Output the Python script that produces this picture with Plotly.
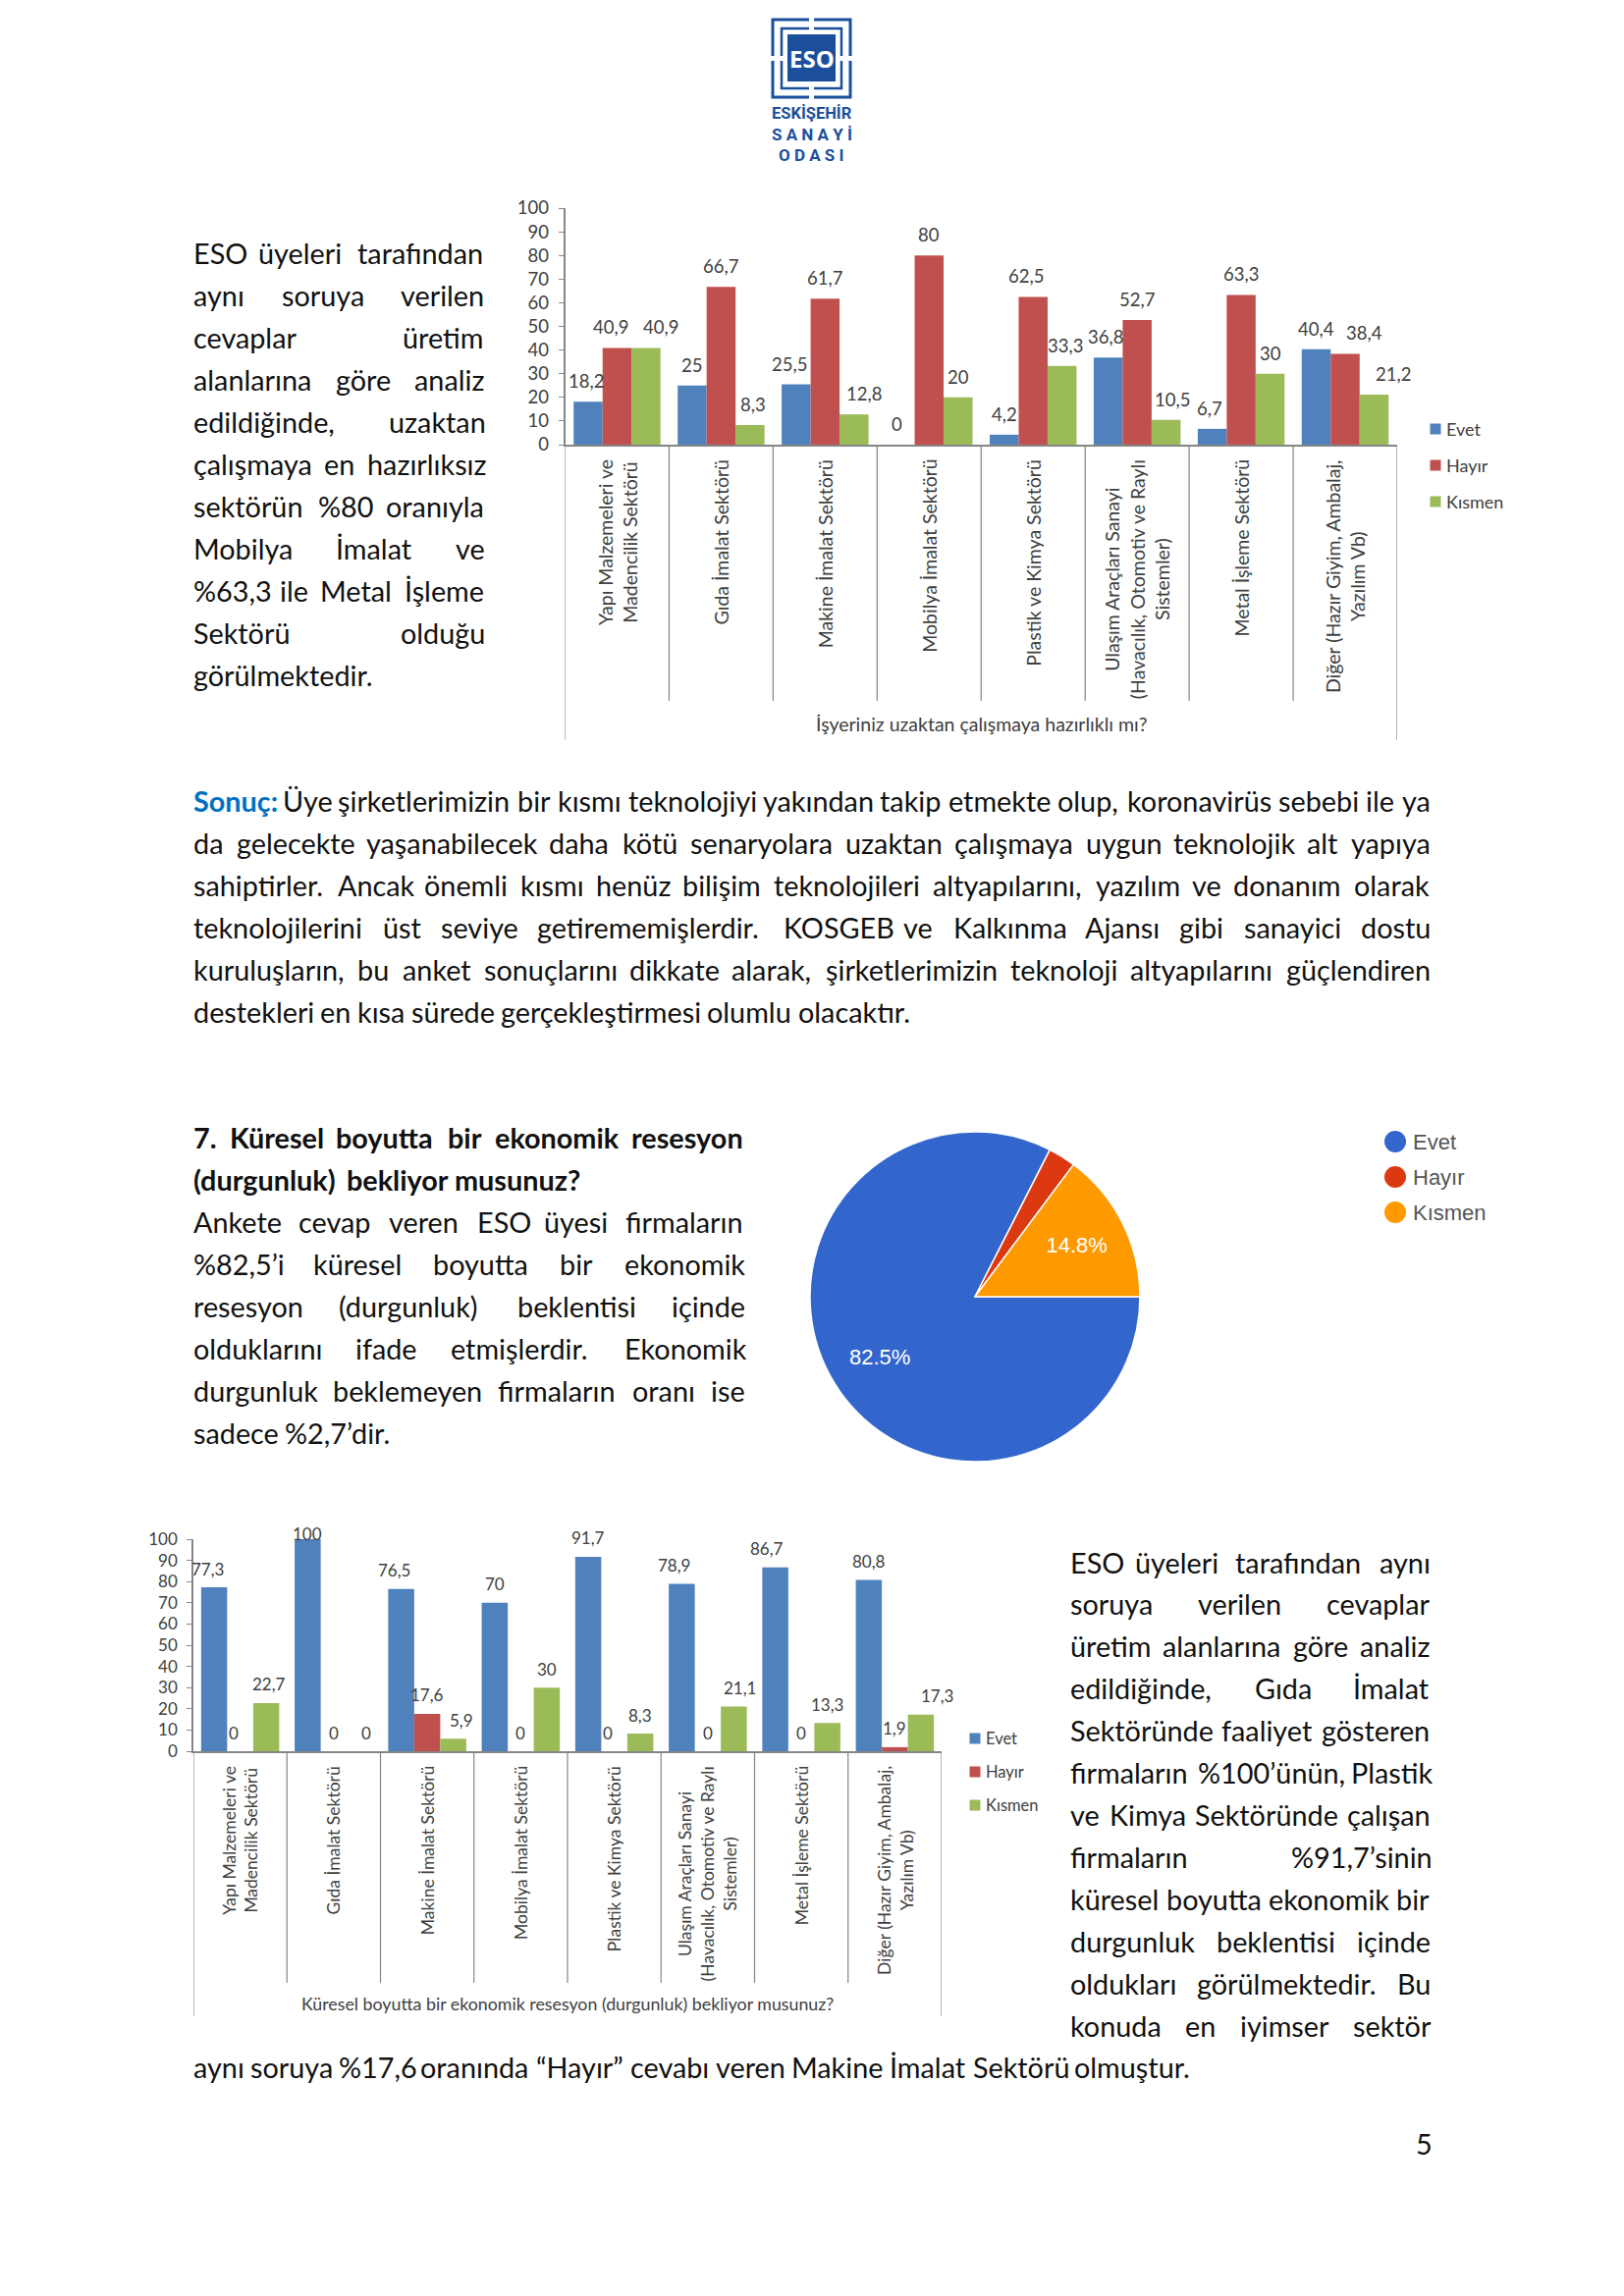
import plotly.graph_objects as go

W, H = 1654, 2339
FONT = "Lato"
TXT = "#111111"
GRAY = "#404040"
AX = "#868686"
C_EVET, C_HAYIR, C_KISMEN = "#4F81BD", "#C0504D", "#9BBB59"

series_names = ["Evet", "Hayır", "Kısmen"]
categories = [
    "Yapı Malzemeleri ve<br>Madencilik Sektörü",
    "Gıda İmalat Sektörü",
    "Makine İmalat Sektörü",
    "Mobilya İmalat Sektörü",
    "Plastik ve Kimya Sektörü",
    "Ulaşım Araçları Sanayi<br>(Havacılık, Otomotiv ve Raylı<br>Sistemler)",
    "Metal İşleme Sektörü",
    "Diğer (Hazır Giyim, Ambalaj,<br>Yazılım Vb)",
]
yticks = [0, 10, 20, 30, 40, 50, 60, 70, 80, 90, 100]

remote_evet = [18.2, 25, 25.5, 0, 4.2, 36.8, 6.7, 40.4]
remote_hayir = [40.9, 66.7, 61.7, 80, 62.5, 52.7, 63.3, 38.4]
remote_kismen = [40.9, 8.3, 12.8, 20, 33.3, 10.5, 30, 21.2]
remote_title = "İşyeriniz uzaktan çalışmaya hazırlıklı mı?"

recession_evet = [77.3, 100, 76.5, 70, 91.7, 78.9, 86.7, 80.8]
recession_hayir = [0, 0, 17.6, 0, 0, 0, 0, 1.9]
recession_kismen = [22.7, 0, 5.9, 30, 8.3, 21.1, 13.3, 17.3]
recession_title = "Küresel boyutta bir ekonomik resesyon (durgunluk) bekliyor musunuz?"

pie_labels = ["Evet", "Hayır", "Kısmen"]
pie_values = [82.5, 2.7, 14.8]
pie_text = ["", "", "14.8%"]
pie_big_label = "82.5%"
pie_colors = ["#3366CC", "#DC3912", "#FF9900"]

block_remote = [
    ("ESO üyeleri tarafından", True), ("aynı soruya verilen", True), ("cevaplar üretim", True),
    ("alanlarına göre analiz", True), ("edildiğinde, uzaktan", True), ("çalışmaya en hazırlıksız", True),
    ("sektörün %80 oranıyla", True), ("Mobilya İmalat ve", True), ("%63,3 ile Metal İşleme", True),
    ("Sektörü olduğu", True), ("görülmektedir.", False),
]
block_result = [
    ("Sonuç: Üye şirketlerimizin bir kısmı teknolojiyi yakından takip etmekte olup, koronavirüs sebebi ile ya", True),
    ("da gelecekte yaşanabilecek daha kötü senaryolara uzaktan çalışmaya uygun teknolojik alt yapıya", True),
    ("sahiptirler. Ancak önemli kısmı henüz bilişim teknolojileri altyapılarını, yazılım ve donanım olarak", True),
    ("teknolojilerini üst seviye getirememişlerdir. KOSGEB ve Kalkınma Ajansı gibi sanayici dostu", True),
    ("kuruluşların, bu anket sonuçlarını dikkate alarak, şirketlerimizin teknoloji altyapılarını güçlendiren", True),
    ("destekleri en kısa sürede gerçekleştirmesi olumlu olacaktır.", False),
]
block_heading = [
    ("7. Küresel boyutta bir ekonomik resesyon", True),
    ("(durgunluk) bekliyor musunuz?", False),
]
block_recession = [
    ("Ankete cevap veren ESO üyesi firmaların", True),
    ("%82,5’i küresel boyutta bir ekonomik", True),
    ("resesyon (durgunluk) beklentisi içinde", True),
    ("olduklarını ifade etmişlerdir. Ekonomik", True),
    ("durgunluk beklemeyen firmaların oranı ise", True),
    ("sadece %2,7’dir.", False),
]
block_sector = [
    ("ESO üyeleri tarafından aynı", True), ("soruya verilen cevaplar", True),
    ("üretim alanlarına göre analiz", True), ("edildiğinde, Gıda İmalat", True),
    ("Sektöründe faaliyet gösteren", True), ("firmaların %100’ünün, Plastik", True),
    ("ve Kimya Sektöründe çalışan", True), ("firmaların %91,7’sinin", True),
    ("küresel boyutta ekonomik bir", True), ("durgunluk beklentisi içinde", True),
    ("oldukları görülmektedir. Bu", True), ("konuda en iyimser sektör", True),
]
last_line = "aynı soruya %17,6 oranında “Hayır” cevabı veren Makine İmalat Sektörü olmuştur."

# label x nudges (px) where the original labels sit off the bar centre: (category, series) -> px
remote_nudge = {(0, 0): -2, (0, 1): -6, (0, 2): 15, (1, 2): 3, (2, 0): -7, (2, 2): 10, (3, 0): -3,
                (4, 1): -7, (4, 2): 3, (5, 0): -3, (5, 2): 6, (6, 0): -3, (7, 1): 19, (7, 2): 19}
recession_nudge = {(0, 0): -7, (0, 1): -7, (0, 2): 3, (1, 2): 7, (2, 0): -7, (2, 2): 8,
                   (4, 1): -7, (5, 0): -8, (5, 2): 6, (6, 0): -9, (7, 2): 17}

BODY = 28.8
CW = dict(a=.479, b=.525, c=.423, d=.525, e=.498, f=.305, g=.471, h=.525, i=.229, j=.239, k=.455, l=.229,
          m=.799, n=.525, o=.527, p=.525, q=.525, r=.349, s=.391, t=.335, u=.525, v=.452, w=.715, x=.433,
          y=.453, z=.395, A=.579, B=.544, C=.533, D=.615, E=.488, F=.459, G=.631, H=.623, K=.52, L=.42,
          M=.855, N=.646, O=.662, P=.517, R=.543, S=.459, T=.487, U=.642, V=.567, Y=.487)
CW.update({"ç": .423, "ğ": .471, "ı": .229, "ö": .527, "ş": .391, "ü": .525, "%": .715, ",": .25, ".": .252,
           ":": .268, "(": .303, ")": .303, "?": .463, "’": .25, "“": .4, "”": .4, "İ": .252, "I": .252,
           "Ü": .642, "Ö": .662, "Ş": .459, "Ç": .533})


def word_w(word, size=30.5, bold=False):
    total = 0
    for ch in word:
        if ch in CW:
            total += CW[ch]
        elif ch.isdigit():
            total += .507
        else:
            total += .6
    return total * size * (1.035 if bold else 1)


def fx(px):
    return px / W


def fy(py):
    return 1 - py / H


fig = go.Figure()
ann = []
shapes = []


def txt(text, px, py, size, color=TXT, xanchor="left", family=FONT, angle=0, yanchor="middle"):
    ann.append(dict(text=text, x=fx(px), y=fy(py), xref="paper", yref="paper", showarrow=False,
                    xanchor=xanchor, yanchor=yanchor, textangle=angle, borderpad=0, borderwidth=0,
                    font=dict(family=family, size=size, color=color)))


def paragraph(lines, left, right, y0, step=42.95, bold=False):
    for i, (line, justify) in enumerate(lines):
        words = line.split(" ")
        widths = [word_w(w, bold=bold) for w in words]
        gap = 6.9
        if justify and len(words) > 1:
            gap = (right - left - sum(widths)) / (len(words) - 1)
        x = left
        for w, wd in zip(words, widths):
            shown = w
            col = TXT
            if w == "Sonuç:":
                shown, col = "<b>Sonuç:</b>", "#0070C0"
            elif bold:
                shown = f"<b>{w}</b>"
            txt(shown, x, y0 + i * step, BODY, col)
            x += wd + gap


def bar_chart(idx, evet, hayir, kismen, title, box, bottom, sep_bottom, tick_size, cat_size, title_y, title_size,
              leg_x, leg_ys, nudge, label_size, label_lift):
    xname = f"x{idx}" if idx > 1 else "x"
    yname = f"y{idx}" if idx > 1 else "y"
    left, right, top, base = box
    gap = 0.165
    for vals, name, col in zip((evet, hayir, kismen), series_names, (C_EVET, C_HAYIR, C_KISMEN)):
        fig.add_trace(go.Bar(x=categories, y=vals, name=name, marker=dict(color=col, line_width=0),
                             xaxis=xname, yaxis=yname, showlegend=False))
    layout_x = dict(domain=[fx(left), fx(right)], anchor=yname, type="category", categoryorder="array",
                    categoryarray=categories, range=[-0.5, 7.5], showticklabels=False, ticks="",
                    automargin=False, showline=True, linecolor=AX, linewidth=1.5, showgrid=False, zeroline=False)
    layout_y = dict(domain=[fy(base), fy(top)], anchor=xname, range=[0, 100], tickvals=yticks,
                    automargin=False, ticks="outside", ticklen=5, tickcolor=AX, showline=True, linecolor=AX,
                    linewidth=1.5, showgrid=False, zeroline=False, ticklabelstandoff=6,
                    tickfont=dict(family=FONT, size=tick_size, color=GRAY))
    fig.update_layout({("xaxis" if idx == 1 else f"xaxis{idx}"): layout_x,
                       ("yaxis" if idx == 1 else f"yaxis{idx}"): layout_y})
    for k in range(9):
        end = bottom if k in (0, 8) else sep_bottom
        shapes.append(dict(type="line", xref=xname, yref="paper", x0=k - 0.5, x1=k - 0.5, y0=fy(base), y1=fy(end),
                           line=dict(color=AX, width=1.2)))
    for k, cat in enumerate(categories):
        ann.append(dict(text=cat, x=k, y=fy(base + 14), xref=xname, yref="paper", showarrow=False,
                        textangle=-90, xanchor="center", yanchor="top", align="center", borderpad=0,
                        font=dict(family=FONT, size=cat_size, color=GRAY)))
    txt(title, (left + right) / 2, title_y, title_size, GRAY, xanchor="center")
    w = (1 - gap) / 3
    for s, vals in enumerate((evet, hayir, kismen)):
        for k, v in enumerate(vals):
            label = f"{v:g}".replace(".", ",")
            ann.append(dict(text=label, x=k + (s - 1) * w, y=v, xref=xname, yref=yname, showarrow=False,
                            xanchor="center", yanchor="middle", borderpad=0,
                            yshift=(6 if v == 100 else label_lift), xshift=nudge.get((k, s), 0),
                            font=dict(family=FONT, size=label_size, color=GRAY)))
    for name, col, ly in zip(series_names, (C_EVET, C_HAYIR, C_KISMEN), leg_ys):
        shapes.append(dict(type="rect", xref="paper", yref="paper", x0=fx(leg_x - 5.5), x1=fx(leg_x + 5.5),
                           y0=fy(ly + 5.5), y1=fy(ly - 5.5), fillcolor=col, line_width=0))
        txt(name, leg_x + 11, ly, tick_size - 0.5, GRAY)


bar_chart(1, remote_evet, remote_hayir, remote_kismen, remote_title, (575.5, 1423, 212, 453), 754, 714,
          18.5, 19.5, 738, 19.5, 1462, (437, 474, 511), remote_nudge, 18.5, 21)
bar_chart(2, recession_evet, recession_hayir, recession_kismen, recession_title, (197, 959, 1568, 1784), 2054, 2020,
          17, 17.5, 2041, 17.8, 993, (1771, 1805, 1839), recession_nudge, 17, 19)

fig.add_trace(go.Pie(labels=pie_labels, values=pie_values, text=pie_text, textinfo="text", sort=False,
                     direction="clockwise", rotation=90, marker=dict(colors=pie_colors, line=dict(color="white", width=1.5)),
                     domain=dict(x=[fx(825), fx(1161)], y=[fy(1489), fy(1153)]), textposition="inside",
                     insidetextorientation="horizontal", showlegend=False, automargin=False,
                     insidetextfont=dict(family="Liberation Sans", size=22, color="white")))
txt(pie_big_label, 896, 1382, 22, "white", xanchor="center", family="Liberation Sans")
for name, col, ly in zip(pie_labels, pie_colors, (1163, 1199, 1235)):
    shapes.append(dict(type="circle", xref="paper", yref="paper", x0=fx(1410), x1=fx(1432), y0=fy(ly + 11), y1=fy(ly - 11),
                       fillcolor=col, line_width=0))
    txt(name, 1439, ly, 22, "#555555", family="Liberation Sans")

paragraph(block_remote, 197, 493, 258)
paragraph(block_result, 197, 1456, 816)
paragraph(block_heading, 197, 758, 1159, bold=True)
paragraph(block_recession, 197, 758, 1245)
paragraph(block_sector, 1090, 1456, 1591.5)
paragraph([(last_line, False)], 197, 1456, 2106)
txt("5", 1442, 2184, BODY)

LOGO = "#1B4F9C"
for x0, y0, x1, y1, lw in ((787, 20, 866, 99, 3), (796, 29, 857, 90, 2.5)):
    shapes.append(dict(type="rect", xref="paper", yref="paper", x0=fx(x0), x1=fx(x1), y0=fy(y1), y1=fy(y0),
                       line=dict(color=LOGO, width=lw)))
shapes.append(dict(type="rect", xref="paper", yref="paper", x0=fx(802), x1=fx(851), y0=fy(83), y1=fy(35),
                   fillcolor=LOGO, line_width=0))
for x0, y0, x1, y1 in ((824, 18, 829, 31), (824, 88, 829, 101), (785, 57, 798, 62), (855, 57, 868, 62)):
    shapes.append(dict(type="rect", xref="paper", yref="paper", x0=fx(x0), x1=fx(x1), y0=fy(y1), y1=fy(y0),
                       fillcolor="white", line_width=0))
txt("<b>ESO</b>", 826.5, 60, 24, "white", xanchor="center", family="Open Sans")
for t, py, sz in (("ESKİŞEHİR", 115, 16.5), ("S A N A Y İ", 137, 17), ("O D A S I", 158, 17)):
    txt(f"<b>{t}</b>", 826.5, py, sz, LOGO, xanchor="center", family="Roboto")

fig.update_layout(width=W, height=H, margin=dict(l=0, r=0, t=0, b=0, autoexpand=False), paper_bgcolor="white",
                  plot_bgcolor="white", barmode="group", bargap=0.165, bargroupgap=0, annotations=ann, shapes=shapes,
                  showlegend=False)
fig.write_html("out.html", config=dict(displayModeBar=False),
               post_script="document.body.style.margin='0';")
